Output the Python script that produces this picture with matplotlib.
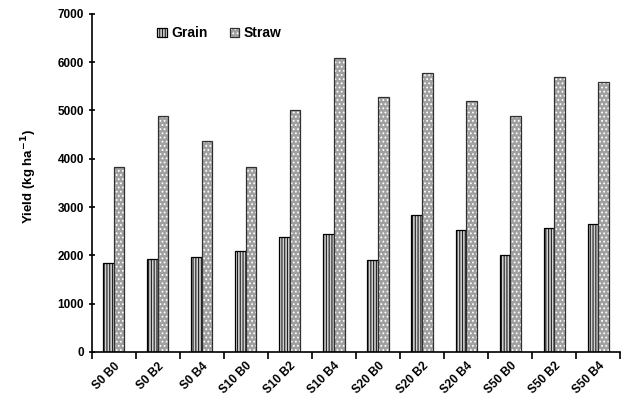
import matplotlib.pyplot as plt
import numpy as np

plt.rcParams['font.family'] = ['Liberation Sans', 'DejaVu Sans']
plt.rcParams['font.weight'] = 'bold'
plt.rcParams['hatch.linewidth'] = 0.8

treatments = ['S0 B0', 'S0 B2', 'S0 B4', 'S10 B0', 'S10 B2', 'S10 B4',
              'S20 B0', 'S20 B2', 'S20 B4', 'S50 B0', 'S50 B2', 'S50 B4']
grain = [1850, 1925, 1970, 2090, 2370, 2450, 1910, 2840, 2520, 2000, 2560, 2640]
straw = [3830, 4890, 4370, 3830, 5000, 6080, 5280, 5780, 5200, 4890, 5700, 5600]

fig = plt.figure(figsize=(6.24, 3.98), dpi=100)
ax = fig.add_axes([0.147, 0.116, 0.847, 0.849])

x = np.arange(len(treatments))
w = 0.24
# grain: grey with dark vertical stripes
g1 = ax.bar(x - w / 2, grain, w, facecolor='#d0d0d0', edgecolor='#202020',
            hatch='||||||', linewidth=0)
g2 = ax.bar(x - w / 2, grain, w, facecolor='none', edgecolor='black', linewidth=0.9)
# straw: grey with white dots
s1 = ax.bar(x + w / 2, straw, w, facecolor='#a0a0a0', edgecolor='white',
            hatch='....', linewidth=0)
s2 = ax.bar(x + w / 2, straw, w, facecolor='none', edgecolor='#303030', linewidth=0.9)

ax.set_xlim(-0.5, len(treatments) - 0.5)
ax.set_ylim(0, 7000)
ax.set_yticks(range(0, 7001, 1000))
ax.set_xticks(x)
ax.set_xticklabels(treatments, rotation=45, ha='right', rotation_mode='anchor', fontsize=8.5)
ax.tick_params(axis='x', length=0, pad=6)
ax.set_xticks(np.arange(-0.5, len(treatments), 1), minor=True)
ax.tick_params(axis='x', which='minor', length=5, width=1.2, direction='out')
ax.tick_params(axis='y', labelsize=8.5, length=4, width=1.2, direction='inout')

ax.spines['top'].set_visible(False)
ax.spines['right'].set_visible(False)
ax.spines['left'].set_linewidth(1.2)
ax.spines['bottom'].set_linewidth(1.2)

ax.set_ylabel('Yield (kg ha$^{\\mathbf{-1}}$)', fontsize=9.5, fontweight='bold')
ax.yaxis.set_label_coords(-0.1, 0.52)

ax.legend([(g1[0], g2[0]), (s1[0], s2[0])], ['Grain', 'Straw'],
          loc='upper left', bbox_to_anchor=(0.1, 1.0), ncol=2, frameon=False,
          fontsize=10, handlelength=0.7, handleheight=0.7, handletextpad=0.3, columnspacing=1.6)

fig.savefig('out.png', dpi=100)
